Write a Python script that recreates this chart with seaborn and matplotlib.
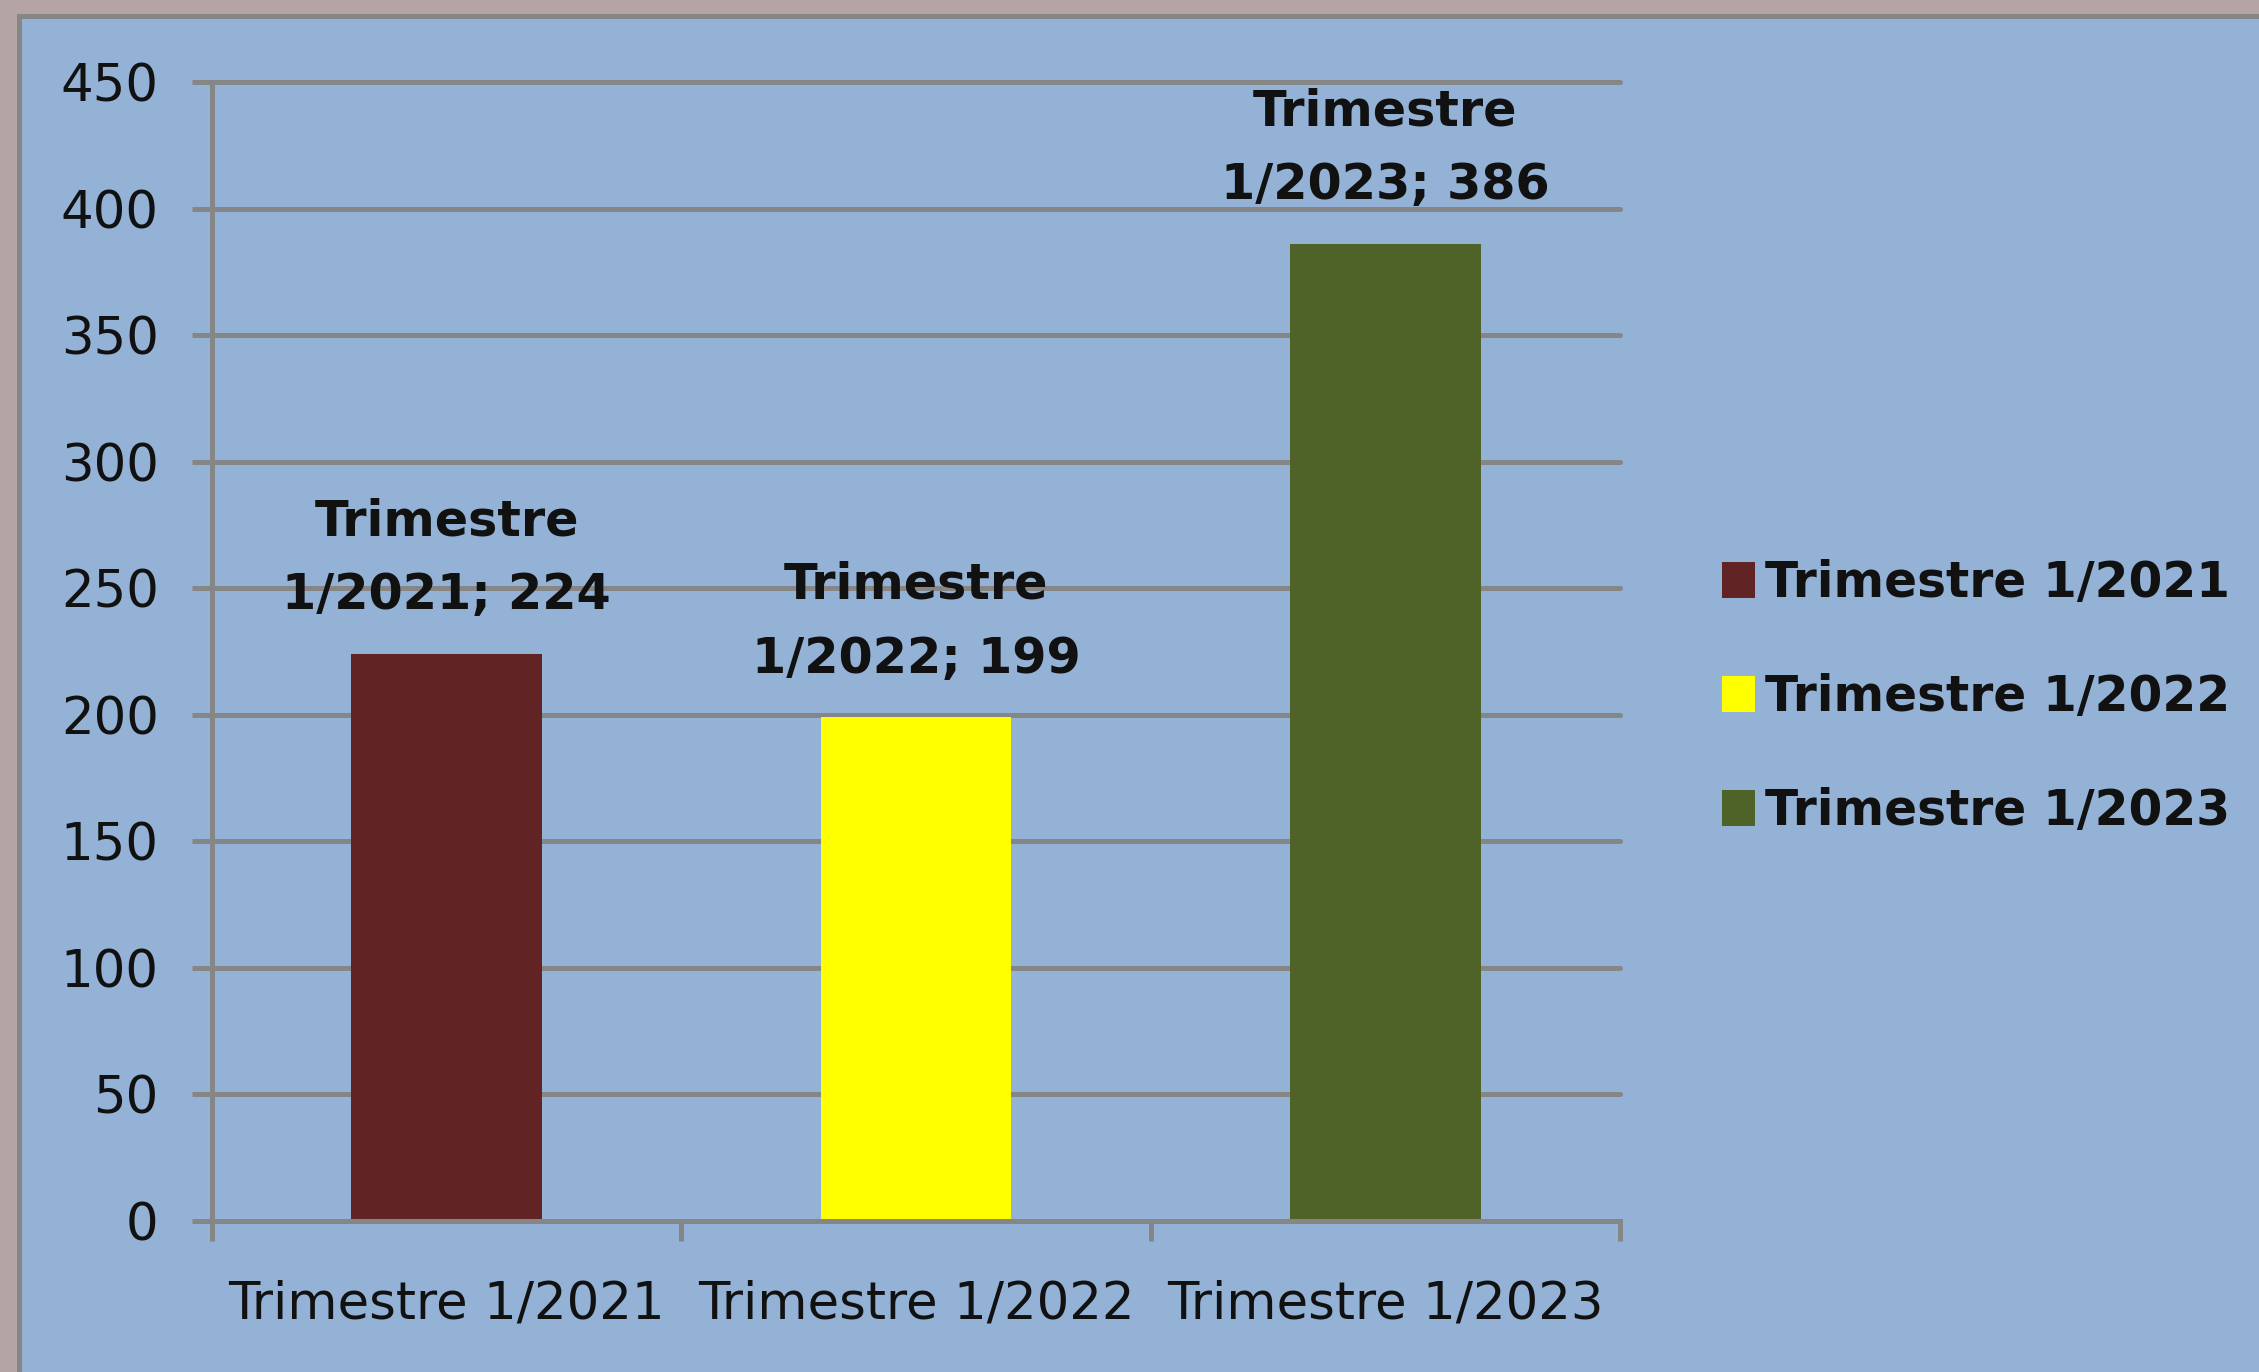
import matplotlib
matplotlib.use("Agg")
import matplotlib.pyplot as plt
import matplotlib.patches as mpatches
import seaborn as sns
import pandas as pd

# Data
categories = ["Trimestre 1/2021", "Trimestre 1/2022", "Trimestre 1/2023"]
values = [224, 199, 386]
colors = ["#612323", "#FFFF00", "#4F6228"]
y_ticks = [0, 50, 100, 150, 200, 250, 300, 350, 400, 450]

df = pd.DataFrame({"periodo": categories, "valor": values})

sns.set_style("white")
plt.rcParams["font.family"] = ["DejaVu Sans"]

bg = "#94B2D6"
grey = "#868686"
lw = 3.6

fig = plt.figure(figsize=(22.59, 13.72), dpi=100)
fig.patch.set_facecolor("#B4A4A3")

# inner chart area with grey frame
frame = mpatches.Rectangle((18.5 / 2259, -0.05), 1.2, 1 - 16.5 / 1372 + 0.05,
                           transform=fig.transFigure, facecolor=bg,
                           edgecolor=grey, linewidth=lw, zorder=-5)
fig.patches.append(frame)

ax = fig.add_axes([212 / 2259, 1 - 1221 / 1372, (1620 - 212) / 2259, (1221 - 82) / 1372])
ax.set_facecolor(bg)

sns.barplot(data=df, x="periodo", y="valor", hue="periodo", palette=colors,
            width=0.406, legend=False, saturation=1, linewidth=0,
            ax=ax, zorder=3)

ax.set_xlim(-0.5, 2.5)
ax.set_ylim(0, 450)
ax.set_yticks(y_ticks)
ax.set_xlabel("")
ax.set_ylabel("")

# grid and spines
ax.yaxis.grid(True, color=grey, linewidth=lw)
ax.set_axisbelow(True)
for gl in ax.yaxis.get_gridlines():
    gl.set_clip_on(False)
for s in ["top", "right"]:
    ax.spines[s].set_visible(False)
for s in ["left", "bottom"]:
    ax.spines[s].set_color(grey)
    ax.spines[s].set_linewidth(lw)
    ax.spines[s].set_zorder(4)

ax.tick_params(axis="y", length=14.4, width=lw, color=grey, direction="out",
               labelsize=37, pad=24, left=True)
ax.tick_params(axis="x", which="major", length=0, labelsize=37, pad=42)
ax.set_xticks([-0.5, 0.5, 1.5, 2.5], minor=True)
ax.tick_params(axis="x", which="minor", length=14.4, width=lw, color=grey,
               direction="out", bottom=True)
for lab in ax.get_xticklabels() + ax.get_yticklabels():
    lab.set_color("#111111")

# data labels
for i, (cat, val) in enumerate(zip(categories, values)):
    txt = cat.replace(" ", "\n", 1) + "; " + str(val)
    ax.annotate(txt, xy=(i, val), xytext=(0, 25), textcoords="offset points",
                ha="center", va="bottom", fontsize=35.5, fontweight="bold",
                linespacing=1.68, color="#111111", annotation_clip=False)

# legend
handles = [mpatches.Patch(facecolor=c, edgecolor="none") for c in colors]
fig.legend(handles, categories, loc="center left",
           bbox_to_anchor=(1722 / 2259, 1 - 697 / 1372), frameon=False,
           prop={"size": 35, "weight": "bold"}, handlelength=0.68,
           handleheight=0.78, handletextpad=0.2, labelspacing=1.36,
           borderpad=0, borderaxespad=0, labelcolor="#111111")

fig.savefig("out.png", dpi=100, facecolor=fig.get_facecolor())
